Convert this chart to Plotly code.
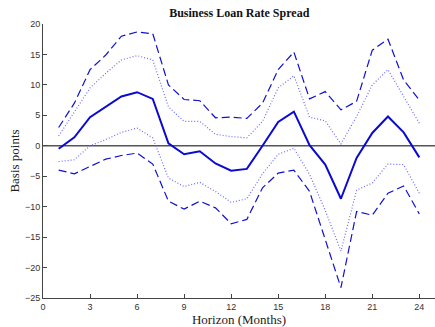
import plotly.graph_objects as go

# Impulse response of the business loan rate spread (basis points)
horizon = list(range(1, 25))
median = [-0.5, 1.4, 4.7, 6.4, 8.1, 8.8, 7.7, 0.4, -1.4, -0.9, -2.9, -4.1,
          -3.8, 0.0, 3.9, 5.6, 0.1, -3.1, -8.7, -2.0, 2.1, 4.8, 2.2, -1.9]
upper_68 = [1.6, 5.6, 9.5, 11.9, 14.1, 14.8, 14.1, 6.4, 4.0, 4.0, 1.9, 1.5,
            1.3, 4.0, 9.5, 11.5, 4.7, 4.1, 0.3, 4.8, 10.0, 12.5, 8.1, 3.7]
lower_68 = [-2.6, -2.3, 0.0, 1.0, 2.2, 2.9, 1.3, -5.3, -6.7, -6.0, -7.5, -9.3,
            -8.7, -4.6, -1.4, -0.4, -4.7, -10.6, -17.3, -7.3, -6.1, -3.0, -3.1, -7.8]
upper_90 = [3.0, 7.0, 12.5, 14.9, 18.0, 18.7, 18.4, 10.0, 7.6, 7.4, 4.6, 4.7,
            4.5, 7.0, 12.5, 15.4, 7.7, 8.9, 5.9, 7.3, 15.7, 17.5, 10.8, 7.5]
lower_90 = [-4.0, -4.6, -3.4, -2.2, -1.6, -1.2, -3.0, -9.1, -10.4, -9.1, -10.2, -12.8,
            -12.1, -6.9, -4.5, -4.0, -7.5, -15.4, -23.3, -10.8, -11.4, -7.8, -6.6, -11.2]

x_ticks = [0, 3, 6, 9, 12, 15, 18, 21, 24]
y_ticks = [20, 15, 10, 5, 0, -5, -10, -15, -20, -25]

fig = go.Figure()

# zero reference line
fig.add_trace(go.Scatter(x=[0, 25], y=[0, 0], mode="lines",
                         line=dict(color="#555555", width=1.5), hoverinfo="skip"))

for band, style in ((upper_90, "dash90"), (lower_90, "dash90"),
                    (upper_68, "dot68"), (lower_68, "dot68")):
    if style == "dash90":
        line = dict(color="#1010d0", width=1.2, dash="8px,4px")
    else:
        line = dict(color="#6a6aff", width=1.2, dash="1px,2px")
    fig.add_trace(go.Scatter(x=horizon, y=band, mode="lines", line=line))

fig.add_trace(go.Scatter(x=horizon, y=median, mode="lines",
                         line=dict(color="#0a0ad0", width=2)))

axis_common = dict(
    showgrid=False, zeroline=False, showline=True, linecolor="#444444", linewidth=1,
    ticks="inside", ticklen=4, tickcolor="#444444", tickwidth=1,
    tickfont=dict(family="Liberation Sans, Arial", size=9, color="#333333"),
)

fig.update_layout(
    width=435, height=327,
    margin=dict(l=43, r=0, t=24, b=28.5),
    paper_bgcolor="white", plot_bgcolor="white",
    showlegend=False,
    title=dict(text="<b>Business Loan Rate Spread</b>", x=0.55, xanchor="center",
               y=1 - 13 / 327, yanchor="middle",
               font=dict(family="Liberation Serif, Times New Roman", size=12, color="#111111")),
    xaxis=dict(range=[0, 25], tickvals=x_ticks,
               title=dict(text="Horizon (Months)", standoff=2,
                          font=dict(family="Liberation Serif, Times New Roman", size=13, color="#222222")),
               **axis_common),
    yaxis=dict(range=[-25, 20], tickvals=y_ticks,
               title=dict(text="Basis points", standoff=2,
                          font=dict(family="Liberation Serif, Times New Roman", size=13, color="#222222")),
               **axis_common),
)

fig.write_html("out.html")
